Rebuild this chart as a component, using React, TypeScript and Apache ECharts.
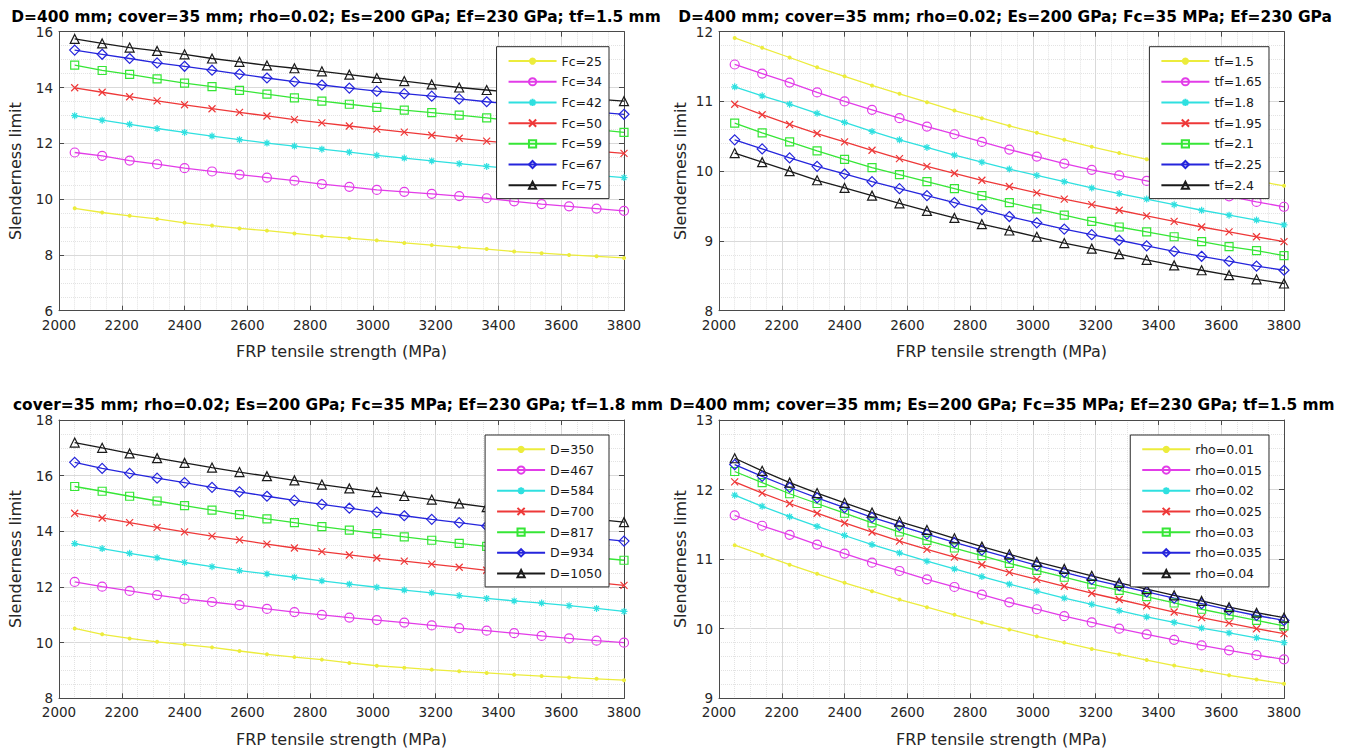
import React, { useEffect, useRef } from "react";
import * as echarts from "echarts";

// FRP tensile strength (MPa) at which every curve is evaluated
const strength = [
  2050, 2137.5, 2225, 2312.5, 2400, 2487.5, 2575, 2662.5, 2750, 2837.5, 2925,
  3012.5, 3100, 3187.5, 3275, 3362.5, 3450, 3537.5, 3625, 3712.5, 3800,
];

// Panel 1: concrete strength Fc
const fcLabels = ["Fc=25", "Fc=34", "Fc=42", "Fc=50", "Fc=59", "Fc=67", "Fc=75"];
const fc25 = [9.67, 9.52, 9.4, 9.29, 9.15, 9.05, 8.95, 8.87, 8.77, 8.67, 8.6, 8.52, 8.43, 8.35, 8.27, 8.21, 8.12, 8.06, 8.0, 7.95, 7.89];
const fc34 = [11.67, 11.55, 11.38, 11.25, 11.11, 10.99, 10.88, 10.77, 10.66, 10.54, 10.44, 10.33, 10.26, 10.19, 10.11, 10.03, 9.92, 9.82, 9.74, 9.66, 9.58];
const fc42 = [12.99, 12.83, 12.68, 12.53, 12.39, 12.26, 12.13, 12.01, 11.9, 11.79, 11.68, 11.57, 11.47, 11.37, 11.27, 11.17, 11.09, 11.0, 10.92, 10.85, 10.77];
const fc50 = [13.99, 13.83, 13.67, 13.52, 13.38, 13.24, 13.11, 12.98, 12.85, 12.73, 12.62, 12.51, 12.4, 12.29, 12.18, 12.08, 11.99, 11.9, 11.81, 11.72, 11.64];
const fc59 = [14.8, 14.61, 14.47, 14.31, 14.16, 14.03, 13.9, 13.76, 13.63, 13.51, 13.4, 13.29, 13.19, 13.1, 13.01, 12.91, 12.8, 12.69, 12.59, 12.49, 12.39];
const fc67 = [15.34, 15.19, 15.04, 14.88, 14.76, 14.62, 14.48, 14.34, 14.21, 14.09, 13.98, 13.87, 13.78, 13.69, 13.59, 13.49, 13.4, 13.3, 13.21, 13.12, 13.04];
const fc75 = [15.74, 15.58, 15.43, 15.31, 15.19, 15.04, 14.92, 14.79, 14.69, 14.58, 14.46, 14.34, 14.23, 14.11, 14.0, 13.91, 13.82, 13.74, 13.66, 13.58, 13.51];

// Panel 2: FRP thickness tf
const tfLabels = ["tf=1.5", "tf=1.65", "tf=1.8", "tf=1.95", "tf=2.1", "tf=2.25", "tf=2.4"];
const tf150 = [11.91, 11.77, 11.63, 11.49, 11.36, 11.23, 11.11, 10.99, 10.87, 10.76, 10.65, 10.55, 10.45, 10.35, 10.26, 10.17, 10.09, 10.01, 9.93, 9.86, 9.79];
const tf165 = [11.53, 11.4, 11.27, 11.13, 11.0, 10.88, 10.76, 10.64, 10.53, 10.42, 10.31, 10.21, 10.11, 10.02, 9.94, 9.86, 9.78, 9.71, 9.64, 9.56, 9.49];
const tf180 = [11.21, 11.08, 10.96, 10.83, 10.7, 10.57, 10.45, 10.34, 10.23, 10.13, 10.03, 9.94, 9.85, 9.76, 9.68, 9.6, 9.52, 9.44, 9.37, 9.3, 9.23];
const tf195 = [10.96, 10.81, 10.67, 10.54, 10.42, 10.3, 10.18, 10.07, 9.97, 9.87, 9.78, 9.69, 9.6, 9.52, 9.44, 9.36, 9.28, 9.2, 9.13, 9.06, 8.99];
const tf210 = [10.69, 10.55, 10.42, 10.29, 10.17, 10.05, 9.95, 9.85, 9.75, 9.65, 9.55, 9.46, 9.37, 9.28, 9.2, 9.13, 9.06, 8.99, 8.92, 8.86, 8.79];
const tf225 = [10.45, 10.32, 10.19, 10.07, 9.96, 9.85, 9.75, 9.65, 9.55, 9.45, 9.35, 9.26, 9.17, 9.09, 9.01, 8.93, 8.85, 8.78, 8.71, 8.64, 8.58];
const tf240 = [10.26, 10.13, 10.0, 9.87, 9.76, 9.65, 9.54, 9.43, 9.33, 9.24, 9.15, 9.06, 8.97, 8.89, 8.81, 8.73, 8.65, 8.58, 8.51, 8.45, 8.39];

// Panel 3: column diameter D
const dLabels = ["D=350", "D=467", "D=584", "D=700", "D=817", "D=934", "D=1050"];
const d350 = [10.51, 10.3, 10.15, 10.03, 9.93, 9.83, 9.7, 9.58, 9.48, 9.39, 9.27, 9.17, 9.1, 9.03, 8.97, 8.91, 8.85, 8.8, 8.75, 8.7, 8.65];
const d467 = [12.18, 12.01, 11.86, 11.71, 11.57, 11.46, 11.35, 11.21, 11.1, 11.0, 10.9, 10.81, 10.72, 10.62, 10.52, 10.43, 10.34, 10.24, 10.15, 10.07, 10.0];
const d584 = [13.56, 13.38, 13.21, 13.05, 12.88, 12.73, 12.59, 12.47, 12.35, 12.22, 12.1, 11.99, 11.89, 11.79, 11.69, 11.59, 11.5, 11.42, 11.33, 11.23, 11.12];
const d700 = [14.65, 14.48, 14.31, 14.14, 13.98, 13.83, 13.69, 13.54, 13.4, 13.27, 13.15, 13.04, 12.93, 12.82, 12.71, 12.6, 12.49, 12.38, 12.27, 12.16, 12.06];
const d817 = [15.61, 15.44, 15.26, 15.09, 14.92, 14.76, 14.6, 14.45, 14.31, 14.17, 14.04, 13.92, 13.8, 13.68, 13.57, 13.46, 13.35, 13.25, 13.15, 13.05, 12.96];
const d934 = [16.48, 16.26, 16.08, 15.91, 15.75, 15.58, 15.42, 15.26, 15.11, 14.97, 14.83, 14.69, 14.56, 14.43, 14.31, 14.19, 14.08, 13.96, 13.86, 13.75, 13.65];
const d1050 = [17.19, 17.0, 16.8, 16.63, 16.46, 16.29, 16.13, 15.98, 15.83, 15.68, 15.54, 15.41, 15.27, 15.14, 15.0, 14.87, 14.76, 14.65, 14.54, 14.43, 14.33];

// Panel 4: longitudinal steel ratio rho
const rhoLabels = ["rho=0.01", "rho=0.015", "rho=0.02", "rho=0.025", "rho=0.03", "rho=0.035", "rho=0.04"];
const rho010 = [11.2, 11.06, 10.92, 10.79, 10.66, 10.54, 10.42, 10.31, 10.2, 10.09, 9.99, 9.89, 9.8, 9.71, 9.63, 9.55, 9.47, 9.4, 9.33, 9.27, 9.21];
const rho015 = [11.63, 11.48, 11.35, 11.21, 11.08, 10.95, 10.83, 10.71, 10.6, 10.49, 10.38, 10.28, 10.18, 10.09, 10.0, 9.92, 9.84, 9.76, 9.69, 9.62, 9.56];
const rho020 = [11.92, 11.76, 11.61, 11.47, 11.34, 11.21, 11.09, 10.97, 10.86, 10.75, 10.64, 10.54, 10.44, 10.35, 10.26, 10.17, 10.09, 10.01, 9.94, 9.87, 9.8];
const rho025 = [12.11, 11.95, 11.8, 11.66, 11.52, 11.39, 11.26, 11.14, 11.03, 10.92, 10.81, 10.71, 10.61, 10.51, 10.42, 10.33, 10.24, 10.16, 10.08, 10.0, 9.93];
const rho030 = [12.26, 12.1, 11.94, 11.8, 11.66, 11.52, 11.39, 11.27, 11.16, 11.05, 10.94, 10.84, 10.74, 10.64, 10.55, 10.46, 10.37, 10.28, 10.2, 10.12, 10.04];
const rho035 = [12.36, 12.19, 12.03, 11.88, 11.74, 11.6, 11.48, 11.36, 11.24, 11.13, 11.02, 10.91, 10.81, 10.71, 10.62, 10.53, 10.44, 10.36, 10.27, 10.19, 10.12];
const rho040 = [12.45, 12.27, 12.1, 11.95, 11.81, 11.67, 11.54, 11.42, 11.3, 11.18, 11.07, 10.96, 10.86, 10.76, 10.66, 10.57, 10.48, 10.4, 10.31, 10.23, 10.16];

const titles = [
  "D=400 mm; cover=35 mm; rho=0.02; Es=200 GPa; Ef=230 GPa; tf=1.5 mm",
  "D=400 mm; cover=35 mm; rho=0.02; Es=200 GPa; Fc=35 MPa; Ef=230 GPa",
  "cover=35 mm; rho=0.02; Es=200 GPa; Fc=35 MPa; Ef=230 GPa; tf=1.8 mm",
  "D=400 mm; cover=35 mm; Es=200 GPa; Fc=35 MPa; Ef=230 GPa; tf=1.5 mm",
];
const xName = "FRP tensile strength (MPa)";
const yName = "Slenderness limit";

const W = 1347;
const H = 756;
const FONT = '"DejaVu Sans", "Liberation Sans", Arial, sans-serif';

// Line/marker styles shared by the seven curves of each panel
const SYM_CIRCLE = "path://M10,5A5,5 0 1 1 0,5A5,5 0 1 1 10,5Z";
const SYM_STAR = "path://M5,0L5,10M0,5L10,5M1.5,1.5L8.5,8.5M8.5,1.5L1.5,8.5";
const SYM_X = "path://M0,0L10,10M10,0L0,10";
const SYM_SQUARE = "path://M0,0L10,0L10,10L0,10Z";
const SYM_DIAMOND = "path://M5,0L10,5L5,10L0,5Z";
const SYM_TRI = "path://M5,0L10,9L0,9Z";

const curveStyles = [
  { color: "#ecec3c", symbol: "circle", size: 4, filled: true },
  { color: "#e23ce8", symbol: SYM_CIRCLE, size: 9, filled: false },
  { color: "#2fe0e0", symbol: SYM_STAR, size: 7, filled: false },
  { color: "#ee3838", symbol: SYM_X, size: 7, filled: false },
  { color: "#36e636", symbol: SYM_SQUARE, size: 8, filled: false },
  { color: "#2525dc", symbol: SYM_DIAMOND, size: 10, filled: false },
  { color: "#1a1a1a", symbol: SYM_TRI, size: 9, filled: false },
];

type Panel = {
  title: string;
  titleX: number;
  labels: string[];
  values: number[][];
  left: number;
  top: number;
  width: number;
  height: number;
  yMin: number;
  yMax: number;
  yStep: number;
  yMinor: number;
  yNameGap: number;
};

const panels: Panel[] = [
  {
    title: titles[0], titleX: 336, labels: fcLabels, values: [fc25, fc34, fc42, fc50, fc59, fc67, fc75],
    left: 59, top: 31.7, width: 565, height: 279, yMin: 6, yMax: 16, yStep: 2, yMinor: 4, yNameGap: 36,
  },
  {
    title: titles[1], titleX: 1005, labels: tfLabels, values: [tf150, tf165, tf180, tf195, tf210, tf225, tf240],
    left: 719, top: 31.7, width: 565, height: 279, yMin: 8, yMax: 12, yStep: 1, yMinor: 5, yNameGap: 31,
  },
  {
    title: titles[2], titleX: 338, labels: dLabels, values: [d350, d467, d584, d700, d817, d934, d1050],
    left: 59, top: 420, width: 565, height: 278.3, yMin: 8, yMax: 18, yStep: 2, yMinor: 4, yNameGap: 36,
  },
  {
    title: titles[3], titleX: 1002, labels: rhoLabels, values: [rho010, rho015, rho020, rho025, rho030, rho035, rho040],
    left: 719, top: 420, width: 565, height: 278.3, yMin: 9, yMax: 13, yStep: 1, yMinor: 5, yNameGap: 31,
  },
];

const AXIS_COLOR = "#4a4a4a";
const LABEL_COLOR = "#262626";

function buildOption() {
  const grid: any[] = [];
  const xAxis: any[] = [];
  const yAxis: any[] = [];
  const legend: any[] = [];
  const series: any[] = [];
  const graphic: any[] = [];

  panels.forEach((p, pi) => {
    grid.push({ left: p.left, top: p.top, width: p.width, height: p.height, containLabel: false });

    const tickStyle = { show: true, inside: true, length: 5, lineStyle: { color: AXIS_COLOR, width: 1 } };
    const lineStyle = { show: true, onZero: false, lineStyle: { color: AXIS_COLOR, width: 1 } };

    // bottom x axis with labels and grid, top x axis closing the box
    xAxis.push({
      type: "value", gridIndex: pi, position: "bottom", min: 2000, max: 3800, interval: 200,
      axisLine: lineStyle, axisTick: tickStyle,
      axisLabel: {
        color: LABEL_COLOR, fontSize: 13.5, fontFamily: FONT, margin: 7,
        formatter: (v: number) => String(v),
      },
      splitLine: { show: true, lineStyle: { color: "#d9d9d9", width: 1 } },
      minorTick: { show: false, splitNumber: 4 },
      minorSplitLine: { show: true, lineStyle: { color: "#e3e3e3", width: 1, type: "dotted" } },
      name: xName, nameLocation: "middle", nameGap: 33,
      nameTextStyle: { color: LABEL_COLOR, fontSize: 16, fontFamily: FONT },
    });
    xAxis.push({
      type: "value", gridIndex: pi, position: "top", min: 2000, max: 3800, interval: 200,
      axisLine: lineStyle, axisTick: tickStyle, axisLabel: { show: false }, splitLine: { show: false },
    });

    yAxis.push({
      type: "value", gridIndex: pi, position: "left", min: p.yMin, max: p.yMax, interval: p.yStep,
      axisLine: lineStyle, axisTick: tickStyle,
      axisLabel: { color: LABEL_COLOR, fontSize: 13.5, fontFamily: FONT, margin: 6 },
      splitLine: { show: true, lineStyle: { color: "#d9d9d9", width: 1 } },
      minorTick: { show: false, splitNumber: p.yMinor },
      minorSplitLine: { show: true, lineStyle: { color: "#e3e3e3", width: 1, type: "dotted" } },
      name: yName, nameLocation: "middle", nameGap: p.yNameGap,
      nameTextStyle: { color: LABEL_COLOR, fontSize: 16, fontFamily: FONT },
    });
    yAxis.push({
      type: "value", gridIndex: pi, position: "right", min: p.yMin, max: p.yMax, interval: p.yStep,
      axisLine: lineStyle, axisTick: tickStyle, axisLabel: { show: false }, splitLine: { show: false },
    });

    graphic.push({
      type: "text",
      x: p.titleX,
      y: p.top - 15,
      style: {
        text: p.title,
        fill: "#000",
        font: `bold 15.4px ${FONT}`,
        align: "center",
        verticalAlign: "middle",
      },
    });

    legend.push({
      data: p.labels,
      orient: "vertical",
      right: W - (p.left + p.width - 15),
      top: p.top + 15,
      itemWidth: 48,
      itemHeight: 9,
      itemGap: 6,
      padding: [7, 7, 6, 11],
      borderColor: "#2a2a2a",
      borderWidth: 1,
      backgroundColor: "#ffffff",
      selectedMode: false,
      z: 20,
      textStyle: { color: "#1a1a1a", fontSize: 12.5, lineHeight: 14.7, fontFamily: FONT },
    });

    p.values.forEach((vals, si) => {
      const st = curveStyles[si];
      series.push({
        type: "line",
        name: p.labels[si],
        xAxisIndex: pi * 2,
        yAxisIndex: pi * 2,
        data: strength.map((x, k) => [x, vals[k]]),
        symbol: st.symbol,
        symbolSize: st.size,
        showSymbol: true,
        lineStyle: { color: st.color, width: 1.3 },
        itemStyle: st.filled
          ? { color: st.color, borderWidth: 0 }
          : { color: "rgba(255,255,255,0)", borderColor: st.color, borderWidth: 1.2 },
        emphasis: { disabled: true },
        z: 2,
      });
    });
  });

  return {
    animation: false,
    backgroundColor: "#ffffff",
    grid,
    xAxis,
    yAxis,
    legend,
    series,
    graphic,
  };
}

export default function App() {
  const ref = useRef<HTMLDivElement>(null);

  useEffect(() => {
    if (!ref.current) return;
    const chart = echarts.init(ref.current, undefined, { renderer: "svg", width: W, height: H });
    chart.setOption(buildOption());
    return () => {
      chart.dispose();
    };
  }, []);

  return (
    <div
      ref={ref}
      style={{ position: "fixed", left: 0, top: 0, width: W, height: H, background: "#fff" }}
    />
  );
}
